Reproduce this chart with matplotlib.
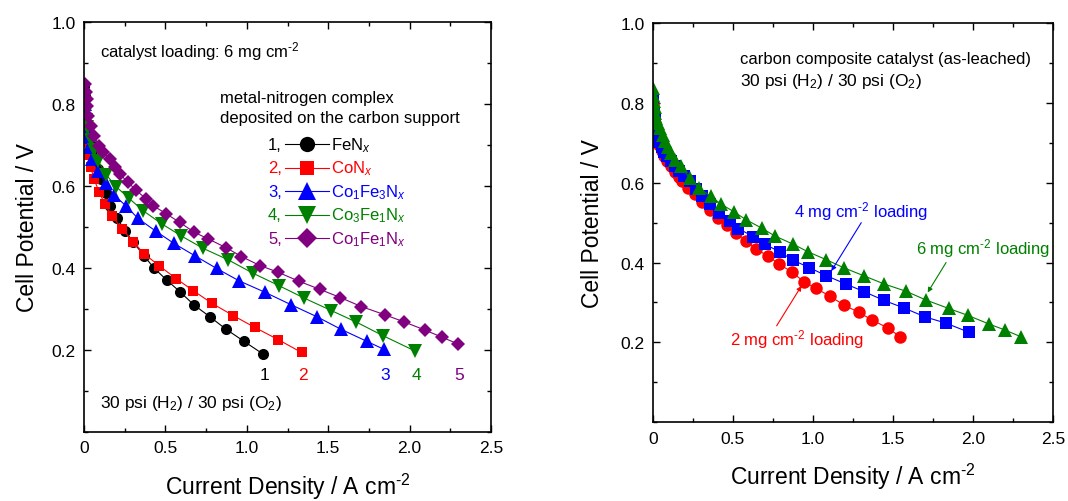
import matplotlib
matplotlib.use("Agg")
import matplotlib.pyplot as plt
from matplotlib.ticker import MultipleLocator

plt.rcParams["font.family"] = ["Liberation Sans", "DejaVu Sans"]
plt.rcParams["mathtext.fontset"] = "custom"
plt.rcParams["mathtext.rm"] = "Liberation Sans"
plt.rcParams["mathtext.it"] = "Liberation Sans:italic"

# ---- left panel: metal-nitrogen complexes, 6 mg cm-2 ----
fen_j = [0.0, 0.004, 0.008, 0.012, 0.018, 0.026, 0.036, 0.05, 0.065, 0.085, 0.106, 0.133,
         0.158, 0.204, 0.253, 0.302, 0.368, 0.429, 0.507, 0.589, 0.675, 0.773, 0.871, 0.983, 1.10]
fen_v = [0.845, 0.82, 0.795, 0.77, 0.748, 0.725, 0.705, 0.685, 0.665, 0.642, 0.617, 0.582,
         0.552, 0.521, 0.490, 0.463, 0.430, 0.400, 0.371, 0.342, 0.310, 0.281, 0.251, 0.221, 0.190]

con_j = [0.0, 0.008, 0.02, 0.041, 0.061, 0.092, 0.127, 0.172, 0.235, 0.302, 0.368, 0.463,
         0.566, 0.67, 0.785, 0.916, 1.049, 1.194, 1.336]
con_v = [0.745, 0.708, 0.676, 0.646, 0.617, 0.586, 0.556, 0.526, 0.495, 0.464, 0.435, 0.405,
         0.374, 0.345, 0.314, 0.284, 0.255, 0.225, 0.194]

co1fe3_j = [0.0, 0.003, 0.006, 0.01, 0.018, 0.03, 0.05, 0.086, 0.133, 0.184, 0.256, 0.331,
            0.44, 0.552, 0.68, 0.814, 0.951, 1.11, 1.274, 1.431, 1.581, 1.738, 1.84]
co1fe3_v = [0.83, 0.80, 0.77, 0.745, 0.72, 0.695, 0.665, 0.637, 0.607, 0.578, 0.552, 0.521,
            0.49, 0.46, 0.43, 0.399, 0.369, 0.341, 0.310, 0.281, 0.25, 0.221, 0.202]

co3fe1_j = [0.0, 0.005, 0.01, 0.02, 0.041, 0.06, 0.086, 0.137, 0.198, 0.276, 0.362, 0.476,
            0.598, 0.731, 0.885, 1.039, 1.197, 1.35, 1.52, 1.673, 1.836, 2.031]
co3fe1_v = [0.80, 0.775, 0.76, 0.743, 0.711, 0.688, 0.662, 0.627, 0.598, 0.570, 0.540, 0.508,
            0.478, 0.448, 0.42, 0.387, 0.357, 0.327, 0.296, 0.268, 0.235, 0.198]

co1fe1_j = [0.008, 0.012, 0.016, 0.02, 0.025, 0.041, 0.061, 0.09, 0.117, 0.158, 0.19, 0.219,
            0.27, 0.321, 0.38, 0.425, 0.505, 0.589, 0.677, 0.763, 0.875, 0.967, 1.08, 1.19,
            1.318, 1.448, 1.574, 1.703, 1.847, 1.963, 2.092, 2.20, 2.296]
co1fe1_v = [0.848, 0.83, 0.812, 0.796, 0.771, 0.747, 0.723, 0.698, 0.684, 0.666, 0.646, 0.629,
            0.609, 0.589, 0.569, 0.552, 0.532, 0.511, 0.487, 0.471, 0.449, 0.428, 0.406, 0.39,
            0.368, 0.348, 0.328, 0.306, 0.286, 0.269, 0.249, 0.231, 0.215]

# number, name, colour, marker, marker size, key marker size, data
left_series = [
    ("1", "FeN$_{x}$", "black", "o", 8.0, 11.0, fen_j, fen_v),
    ("2", "CoN$_{x}$", "#ff0000", "s", 7.0, 10.0, con_j, con_v),
    ("3", "Co$_\\mathrm{1}$Fe$_\\mathrm{3}$N$_{x}$", "#0000ff", "^", 9.5, 13.0, co1fe3_j, co1fe3_v),
    ("4", "Co$_\\mathrm{3}$Fe$_\\mathrm{1}$N$_{x}$", "#008000", "v", 9.5, 13.0, co3fe1_j, co3fe1_v),
    ("5", "Co$_\\mathrm{1}$Fe$_\\mathrm{1}$N$_{x}$", "#800080", "D", 7.5, 10.5, co1fe1_j, co1fe1_v),
]

# ---- right panel: carbon composite catalyst at three loadings ----
load2_j = [0.0, 0.003, 0.006, 0.01, 0.015, 0.022, 0.03, 0.04, 0.055, 0.07, 0.09, 0.11, 0.135,
           0.16, 0.181, 0.222, 0.264, 0.305, 0.356, 0.408, 0.462, 0.522, 0.580, 0.642, 0.718,
           0.790, 0.868, 0.944, 1.021, 1.109, 1.192, 1.287, 1.37, 1.468, 1.545]
load2_v = [0.80, 0.78, 0.765, 0.75, 0.735, 0.72, 0.707, 0.694, 0.68, 0.668, 0.655, 0.642, 0.628,
           0.615, 0.604, 0.587, 0.571, 0.551, 0.532, 0.512, 0.494, 0.475, 0.455, 0.435, 0.416,
           0.396, 0.376, 0.352, 0.335, 0.315, 0.294, 0.275, 0.256, 0.236, 0.214]

load4_j = [0.0, 0.003, 0.006, 0.01, 0.015, 0.022, 0.03, 0.04, 0.055, 0.07, 0.09, 0.11, 0.135,
           0.16, 0.195, 0.232, 0.268, 0.305, 0.357, 0.415, 0.48, 0.534, 0.627, 0.70, 0.791,
           0.876, 0.978, 1.084, 1.207, 1.32, 1.445, 1.57, 1.70, 1.832, 1.977]
load4_v = [0.81, 0.79, 0.772, 0.757, 0.742, 0.728, 0.715, 0.703, 0.69, 0.678, 0.666, 0.655, 0.642,
           0.630, 0.617, 0.604, 0.585, 0.566, 0.546, 0.525, 0.504, 0.485, 0.465, 0.446, 0.427,
           0.406, 0.387, 0.367, 0.346, 0.327, 0.305, 0.286, 0.264, 0.248, 0.225]

load6_j = [0.0, 0.003, 0.006, 0.01, 0.015, 0.02, 0.03, 0.044, 0.06, 0.075, 0.093, 0.112, 0.14,
           0.174, 0.23, 0.287, 0.361, 0.427, 0.507, 0.583, 0.681, 0.76, 0.876, 0.969, 1.084,
           1.192, 1.317, 1.447, 1.582, 1.707, 1.848, 1.966, 2.10, 2.20, 2.30]
load6_v = [0.837, 0.82, 0.805, 0.79, 0.775, 0.762, 0.75, 0.737, 0.72, 0.704, 0.69, 0.675, 0.657,
           0.641, 0.612, 0.587, 0.566, 0.546, 0.527, 0.507, 0.486, 0.467, 0.446, 0.427, 0.407,
           0.387, 0.367, 0.346, 0.328, 0.306, 0.285, 0.268, 0.246, 0.231, 0.214]

right_series = [
    ("2", "#ff0000", "o", 9.0, load2_j, load2_v),
    ("4", "#0000ff", "s", 8.0, load4_j, load4_v),
    ("6", "#008000", "^", 10.5, load6_j, load6_v),
]

SUP = "$^{\\text{-}2}$"

fig = plt.figure(figsize=(10.68, 5.02), dpi=100)
ax1 = fig.add_axes([0.0787, 0.1375, 0.381, 0.8167])
ax2 = fig.add_axes([0.6114, 0.157, 0.3745, 0.795])

def style_axes(ax, ylabelpad):
    ax.set_xlim(0, 2.5)
    ax.set_ylim(0, 1.0)
    ax.set_xticks([0, 0.5, 1.0, 1.5, 2.0, 2.5], ["0", "0.5", "1.0", "1.5", "2.0", "2.5"])
    ax.set_yticks([0.2, 0.4, 0.6, 0.8, 1.0], ["0.2", "0.4", "0.6", "0.8", "1.0"])
    ax.xaxis.set_minor_locator(MultipleLocator(0.25))
    ax.yaxis.set_minor_locator(MultipleLocator(0.1))
    ax.tick_params(which="both", direction="in", top=True, right=True, width=1.0)
    ax.tick_params(which="major", length=5, labelsize=12.5, pad=6)
    ax.tick_params(which="minor", length=3)
    for sp in ax.spines.values():
        sp.set_linewidth(1.2)
    ax.set_xlabel("Current Density / A cm" + SUP, fontsize=16.5, labelpad=11)
    ax.set_ylabel("Cell Potential / V", fontsize=16.5, labelpad=ylabelpad)

style_axes(ax1, 9)
style_axes(ax2, 12)

# left panel curves
for num, name, col, mk, ms, kms, j, v in left_series:
    ax1.plot(j, v, color=col, marker=mk, markersize=ms, lw=0.8, markeredgewidth=0)
    ax1.text(j[-1] + 0.01, 0.14, num, color=col, fontsize=12.5, ha="center", va="center")

# hand-made key: "n, ——●—— name"
key_top = 0.702
key_step = 0.0575
for i, (num, name, col, mk, ms, kms, j, v) in enumerate(left_series):
    yk = key_top - i * key_step
    ax1.text(0.486, yk, num + ",", color=col, fontsize=12, ha="right", va="center",
             transform=ax1.transAxes)
    ax1.plot([0.495, 0.602], [yk, yk], color=col, lw=0.8, transform=ax1.transAxes)
    ax1.plot([0.549], [yk], color=col, marker=mk, markersize=kms, markeredgewidth=0,
             transform=ax1.transAxes)
    ax1.text(0.607, yk, name, color=col, fontsize=12, ha="left", va="center",
             transform=ax1.transAxes)

ax1.text(0.098, 0.93, "catalyst loading: 6 mg cm" + SUP, fontsize=12, va="center")
ax1.text(0.834, 0.817, "metal-nitrogen complex", fontsize=12, va="center")
ax1.text(0.834, 0.768, "deposited on the carbon support", fontsize=12, va="center")
ax1.text(0.098, 0.072, "30 psi (H$_\\mathrm{2}$) / 30 psi (O$_\\mathrm{2}$)", fontsize=12.5,
         va="center")

# right panel curves
for load, col, mk, ms, j, v in right_series:
    ax2.plot(j, v, color=col, marker=mk, markersize=ms, lw=0.8, markeredgewidth=0)

ax2.text(0.544, 0.9125, "carbon composite catalyst (as-leached)", fontsize=12, va="center")
ax2.text(0.544, 0.856, "30 psi (H$_\\mathrm{2}$) / 30 psi (O$_\\mathrm{2}$)", fontsize=12.5,
         va="center")

arrow_kw = dict(arrowstyle="-|>", lw=0.8, mutation_scale=7, shrinkA=0, shrinkB=0)
ax2.text(1.30, 0.53, "4 mg cm" + SUP + " loading", color="#0000ff", fontsize=12,
         ha="center", va="center")
ax2.annotate("", xy=(1.115, 0.379), xytext=(1.302, 0.50),
             arrowprops=dict(color="#0000ff", **arrow_kw))
ax2.text(2.06, 0.437, "6 mg cm" + SUP + " loading", color="#008000", fontsize=12,
         ha="center", va="center")
ax2.annotate("", xy=(1.717, 0.325), xytext=(1.832, 0.40),
             arrowprops=dict(color="#008000", **arrow_kw))
ax2.text(0.90, 0.21, "2 mg cm" + SUP + " loading", color="#ff0000", fontsize=12,
         ha="center", va="center")
ax2.annotate("", xy=(0.928, 0.3415), xytext=(0.773, 0.2415),
             arrowprops=dict(color="#ff0000", **arrow_kw))

fig.savefig("out.png", dpi=100)
